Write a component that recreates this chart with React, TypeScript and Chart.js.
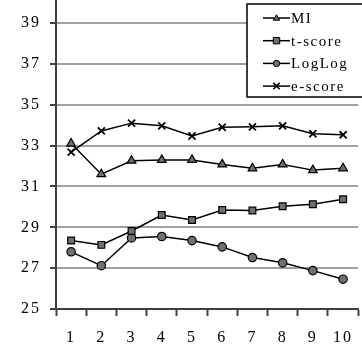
import React, { useEffect, useRef } from "react";
import { Chart, registerables } from "chart.js";

Chart.register(...registerables);

const categories = ["1", "2", "3", "4", "5", "6", "7", "8", "9", "10"];
const miValues = [33.1, 31.6, 32.26, 32.3, 32.3, 32.08, 31.89, 32.08, 31.8, 31.89];
const tScoreValues = [28.35, 28.14, 28.82, 29.6, 29.36, 29.85, 29.82, 30.03, 30.13, 30.37];
const logLogValues = [27.8, 27.12, 28.48, 28.55, 28.35, 28.04, 27.52, 27.26, 26.88, 26.46];
const eScoreValues = [32.68, 33.72, 34.1, 33.97, 33.47, 33.9, 33.92, 33.97, 33.58, 33.53];
const yTicks = [25, 27, 29, 31, 33, 35, 37, 39];

const FONT = "'Liberation Serif', 'Times New Roman', serif";
const SHIFT = 18;

const spacingPlugin = {
  id: "spacing",
  beforeDraw(chart: any) {
    (chart.ctx as any).letterSpacing = "2px";
  },
};

const legendPlugin = {
  id: "boxLegend",
  afterDraw(chart: any) {
    const ctx = chart.ctx as CanvasRenderingContext2D;
    ctx.save();
    ctx.translate(0, SHIFT);
    const x0 = 247, y0 = 4, w = 125, h = 93;
    ctx.fillStyle = "#ffffff";
    ctx.fillRect(x0, y0, w, h);
    ctx.strokeStyle = "#000000";
    ctx.lineWidth = 1.5;
    ctx.strokeRect(x0, y0, w, h);
    chart.data.datasets.forEach((ds: any, i: number) => {
      const cy = 18 + i * 22.7;
      ctx.strokeStyle = "#000";
      ctx.lineWidth = 1.5;
      ctx.beginPath();
      ctx.moveTo(263, cy);
      ctx.lineTo(290, cy);
      ctx.stroke();
      ctx.lineWidth = 1;
      ctx.fillStyle = ds.pointBackgroundColor;
      ctx.strokeStyle = "#000";
      const r = 3.2;
      const cx = 276.5;
      ctx.beginPath();
      if (ds.pointStyle === "triangle") {
        ctx.moveTo(cx, cy - r);
        ctx.lineTo(cx + r, cy + r * 0.7);
        ctx.lineTo(cx - r, cy + r * 0.7);
        ctx.closePath();
        ctx.fill();
        ctx.stroke();
      } else if (ds.pointStyle === "rect") {
        ctx.rect(cx - r, cy - r, 2 * r, 2 * r);
        ctx.fill();
        ctx.stroke();
      } else if (ds.pointStyle === "circle") {
        ctx.arc(cx, cy, r, 0, Math.PI * 2);
        ctx.fill();
        ctx.stroke();
      } else {
        ctx.lineWidth = 1.5;
        ctx.moveTo(cx - r, cy - r);
        ctx.lineTo(cx + r, cy + r);
        ctx.moveTo(cx + r, cy - r);
        ctx.lineTo(cx - r, cy + r);
        ctx.stroke();
      }
      ctx.fillStyle = "#000";
      ctx.font = `15px ${FONT}`;
      (ctx as any).letterSpacing = "1.5px";
      ctx.textBaseline = "middle";
      ctx.textAlign = "left";
      ctx.fillText(ds.label, 291, cy + 1);
    });
    ctx.restore();
  },
};

export default function App() {
  const ref = useRef<HTMLCanvasElement | null>(null);
  useEffect(() => {
    if (!ref.current) return;
    const mk = (label: string, data: number[], style: string, radius: number) => ({
      label,
      data,
      borderColor: "#000000",
      borderWidth: 1.5,
      pointStyle: style,
      pointRadius: radius,
      pointBackgroundColor: style === "crossRot" ? "#000" : "#707070",
      pointBorderColor: "#000000",
      pointBorderWidth: style === "crossRot" ? 1.8 : 1.2,
      tension: 0,
      fill: false,
    });
    const chart = new Chart(ref.current, {
      type: "line",
      data: {
        labels: categories,
        datasets: [
          mk("MI", miValues, "triangle", 5),
          mk("t-score", tScoreValues, "rect", 4.8),
          mk("LogLog", logLogValues, "circle", 4.2),
          mk("e-score", eScoreValues, "crossRot", 5),
        ],
      },
      options: {
        animation: false,
        responsive: false,
        maintainAspectRatio: false,
        layout: { padding: 0 },
        plugins: { legend: { display: false }, tooltip: { enabled: false } },
        scales: {
          x: {
            offset: true,
            grid: {
              offset: true,
              drawOnChartArea: false,
              drawTicks: true,
              tickLength: 7,
              tickWidth: 2,
              tickColor: "#404040",
            },
            border: { color: "#404040", width: 2 },
            ticks: {
              color: "#000",
              font: { family: FONT, size: 16 },
              padding: 12,
              maxRotation: 0,
              autoSkip: false,
            },
            afterFit: (axis: any) => {
              axis.height = 42;
            },
          },
          y: {
            min: 25,
            max: 40.1,
            afterBuildTicks: (axis: any) => {
              axis.ticks = yTicks.map((v) => ({ value: v }));
            },
            grid: {
              color: "#a0a0a0",
              lineWidth: 2,
              tickLength: 6,
              tickColor: "#404040",
              tickWidth: 2,
            },
            border: { color: "#404040", width: 2 },
            ticks: {
              color: "#000",
              font: { family: FONT, size: 16 },
              padding: 9,
            },
            afterFit: (axis: any) => {
              axis.width = 56;
            },
          },
        },
      },
      plugins: [spacingPlugin, legendPlugin],
    });
    return () => chart.destroy();
  }, []);
  return (
    <div style={{ position: "fixed", left: 0, top: -SHIFT, width: 365, height: 351 + SHIFT }}>
      <canvas
        ref={ref}
        width={365}
        height={351 + SHIFT}
        style={{ width: 365, height: 351 + SHIFT, display: "block" }}
      />
    </div>
  );
}
